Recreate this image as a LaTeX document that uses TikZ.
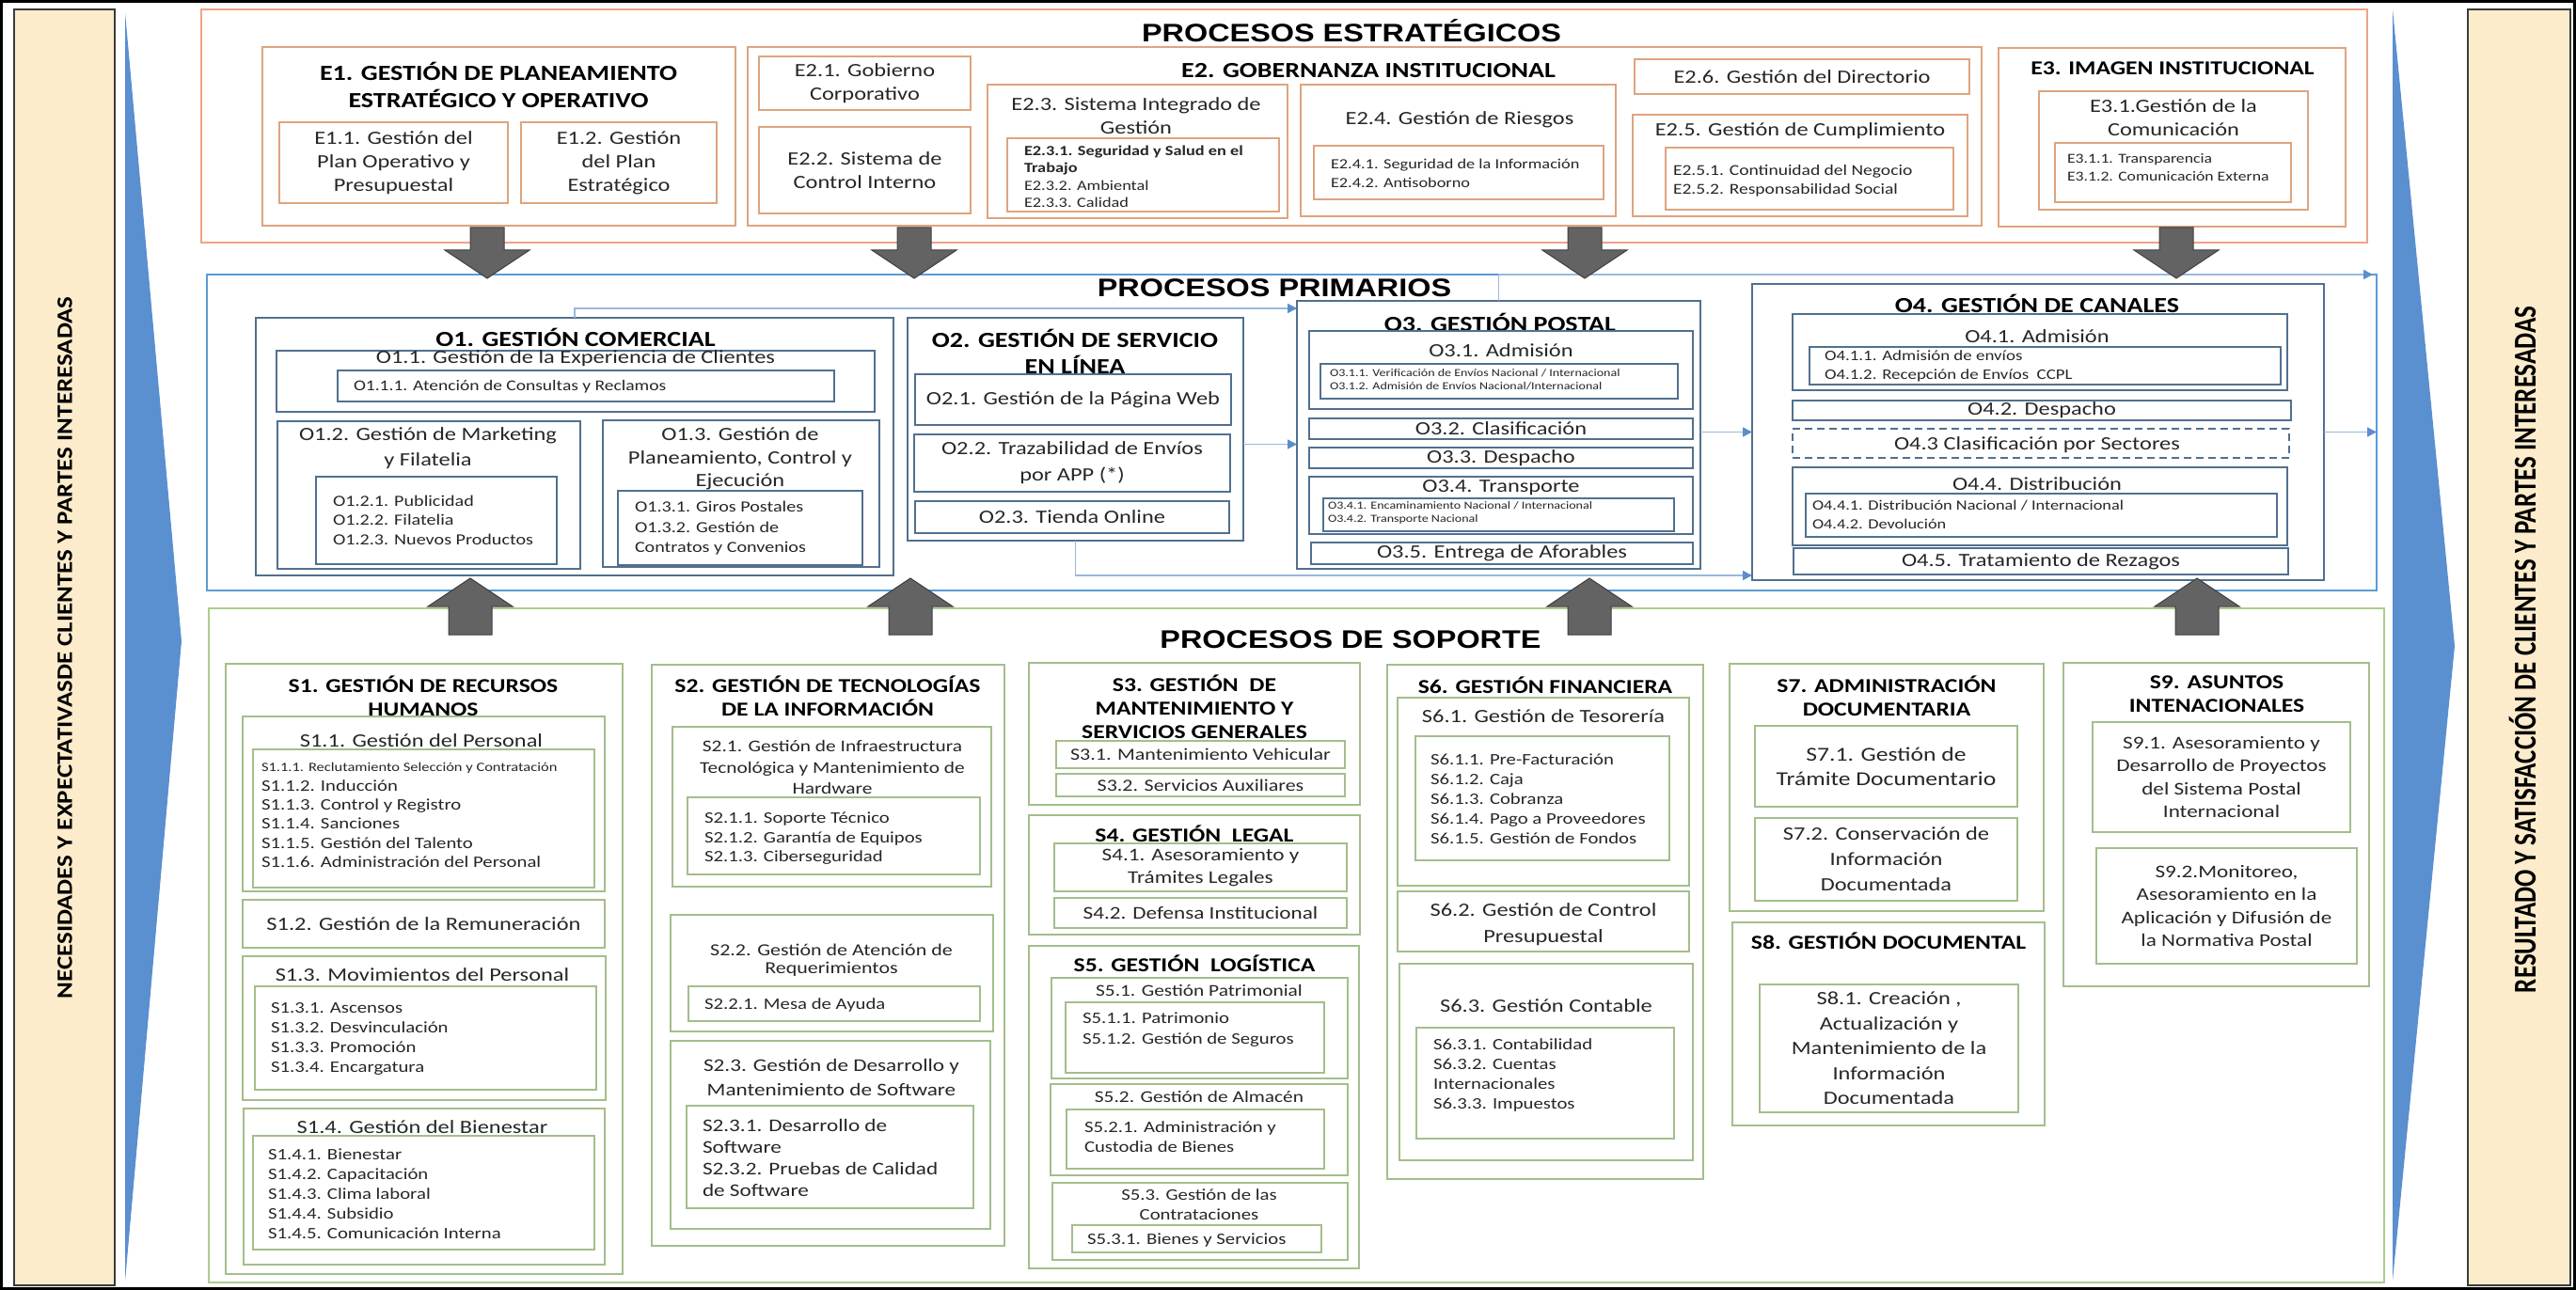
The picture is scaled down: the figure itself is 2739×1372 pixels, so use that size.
\documentclass[tikz,border=0pt]{standalone}
\usepackage{graphicx}
\usepackage{fontspec}
\setmainfont{Carlito}[FakeStretch=1.22]
\newfontfamily\hdfont{Liberation Sans}[FakeStretch=1.2]
\newfontfamily\sidefont{Carlito}
\usetikzlibrary{arrows.meta}

\definecolor{ink}{HTML}{262626}
\definecolor{sidebg}{HTML}{FCECCB}
\definecolor{sidel}{HTML}{3A3A3A}
\definecolor{chev}{HTML}{5A8FD0}
\definecolor{strl}{HTML}{F0A384}
\definecolor{eline}{HTML}{DEA47E}
\definecolor{pril}{HTML}{5B9BD5}
\definecolor{oline}{HTML}{51708F}
\definecolor{supl}{HTML}{A9CE8E}
\definecolor{sline}{HTML}{A3BE8C}
\definecolor{flowl}{HTML}{9AB8DC}
\definecolor{flowh}{HTML}{5B8FC9}
\definecolor{blkf}{HTML}{636363}
\definecolor{blkd}{HTML}{3F3F3F}

\newcommand{\fsz}[2]{\fontsize{#1}{#2}\selectfont}

\begin{document}
\begin{tikzpicture}
[x=1pt,y=-1pt,
 every node/.style={inner sep=0pt,outer sep=0pt,text=ink},
 pbox/.style={anchor=north west,line width=1.8pt},
 ebox/.style={pbox,draw=eline},
 obox/.style={pbox,draw=oline},
 sbox/.style={pbox,draw=sline},
 hdr/.style={font=\hdfont\bfseries\fsz{27}{31},text=black},
 ttl/.style={font=\bfseries\fsz{23}{29},align=center,text=black},
 stl/.style={font=\bfseries\fsz{21}{25},align=center,text=black},
 txt/.style={font=\fsz{20}{25},align=center},
 lst/.style={font=\fsz{17}{21},align=left,anchor=west},
 flow/.style={draw=flowl,line width=1.6pt,-{Triangle[length=10pt,width=10pt,color=flowh]}},
 blk/.style={fill=blkf,draw=blkd,line width=1pt}]

\useasboundingbox (0,0) rectangle (2739,1372);

% side bars
\draw[line width=3pt] (1.5,1.5) rectangle (2737.5,1370.5);
\filldraw[fill=sidebg,draw=sidel,line width=2pt] (15,10) rectangle (122,1367);
\filldraw[fill=sidebg,draw=sidel,line width=2pt] (2624,10) rectangle (2733,1367);
\fill[chev] (133,13) -- (193,682) -- (133,1363) -- cycle;
\fill[chev] (2544,10) -- (2610,687) -- (2544,1362) -- cycle;
\node[rotate=90,font=\sidefont\bfseries\fsz{27}{30},text=black] (NEC) at (69,689)
  {\scalebox{1}[0.87]{NECESIDADES Y EXPECTATIVASDE CLIENTES Y PARTES INTERESADAS}};
\node[rotate=90,font=\sidefont\bfseries\fsz{27}{30},text=black] (RES) at (2682,691)
  {\scalebox{1}[1.25]{RESULTADO Y SATISFACCIÓN DE CLIENTES Y PARTES INTERESADAS}};

% strategic
\node[pbox,draw=strl,line width=2.4pt,minimum width=2303,minimum height=248] (STR) at (214,10) {};
\node[hdr] (STRt) at (1437,33) {PROCESOS ESTRATÉGICOS};

% e1
\node[ebox,minimum width=503,minimum height=190] (E1) at (279,50) {};
\node[ttl] (E1t) at (530,90) {E1. GESTIÓN DE PLANEAMIENTO\\ESTRATÉGICO Y OPERATIVO};
\node[ebox,minimum width=243,minimum height=86] (E11) at (297,130) {};
\node[txt] (E11t) at (E11.center) {E1.1. Gestión del\\Plan Operativo y\\Presupuestal};
\node[ebox,minimum width=208,minimum height=86] (E12) at (554,130) {};
\node[txt] (E12t) at (E12.center) {E1.2. Gestión\\del Plan\\Estratégico};

% e2
\node[ebox,minimum width=1312,minimum height=190] (E2) at (795,50) {};
\node[ttl] (E2t) at (1455,75) {E2. GOBERNANZA INSTITUCIONAL};
\node[ebox,minimum width=225,minimum height=57] (E21) at (807,60) {};
\node[txt] (E21t) at (E21.center) {E2.1. Gobierno\\Corporativo};
\node[ebox,minimum width=225,minimum height=92] (E22) at (807,135) {};
\node[txt] (E22t) at (E22.center) {E2.2. Sistema de\\Control Interno};
\node[ebox,minimum width=319,minimum height=142] (E23) at (1050,90) {};
\node[txt] (E23t) at (1208,123) {E2.3. Sistema Integrado de\\Gestión};
\node[ebox,minimum width=289,minimum height=78] (E231) at (1071,147) {};
\node[lst,font=\fsz{15}{18.5}] (E231t) at (1089,188)
  {\textbf{E2.3.1. Seguridad y Salud en el}\\\textbf{Trabajo}\\E2.3.2. Ambiental\\E2.3.3. Calidad};
\node[ebox,minimum width=335,minimum height=140] (E24) at (1383,90) {};
\node[txt] (E24t) at (1552,127) {E2.4. Gestión de Riesgos};
\node[ebox,minimum width=308,minimum height=57] (E241) at (1397,155) {};
\node[lst,font=\fsz{15}{20}] (E241t) at (1415,184) {E2.4.1. Seguridad de la Información\\E2.4.2. Antisoborno};
\node[ebox,minimum width=356,minimum height=37] (E26) at (1738,63) {};
\node[txt] (E26t) at (E26.center) {E2.6. Gestión del Directorio};
\node[ebox,minimum width=356,minimum height=108] (E25) at (1736,122) {};
\node[txt] (E25t) at (1914,139) {E2.5. Gestión de Cumplimiento};
\node[ebox,minimum width=306,minimum height=66] (E251) at (1771,157) {};
\node[lst,font=\fsz{16}{20}] (E251t) at (1779,192) {E2.5.1. Continuidad del Negocio\\E2.5.2. Responsabilidad Social};

% e3
\node[ebox,minimum width=369,minimum height=190] (E3) at (2125,51) {};
\node[ttl,font=\bfseries\fsz{21}{26}] (E3t) at (2310,73) {E3. IMAGEN INSTITUCIONAL};
\node[ebox,minimum width=286,minimum height=126] (E31) at (2168,97) {};
\node[txt] (E31t) at (2311,125) {E3.1.Gestión de la\\Comunicación};
\node[ebox,minimum width=251,minimum height=63] (E311) at (2185,152) {};
\node[lst,font=\fsz{14.5}{19}] (E311t) at (2198,178) {E3.1.1. Transparencia\\E3.1.2. Comunicación Externa};

% primary
\node[pbox,draw=pril,line width=2.4pt,minimum width=2307,minimum height=336] (PRI) at (220,292) {};
\node[hdr] (PRIt) at (1355,306) {PROCESOS PRIMARIOS};

% o1
\node[obox,minimum width=678,minimum height=274] (O1) at (272,338) {};
\node[ttl] (O1t) at (612,359) {O1. GESTIÓN COMERCIAL};
\node[obox,minimum width=636,minimum height=65] (O11) at (294,373) {};
\node[txt] (O11t) at (612,381) {O1.1. Gestión de la Experiencia de Clientes};
\node[obox,minimum width=528,minimum height=33] (O111) at (359,394) {};
\node[lst,font=\fsz{16}{20}] (O111t) at (376,411) {O1.1.1. Atención de Consultas y Reclamos};
\node[obox,minimum width=322,minimum height=157] (O12) at (295,448) {};
\node[txt,font=\fsz{20}{27}] (O12t) at (455,477) {O1.2. Gestión de Marketing\\y Filatelia};
\node[obox,minimum width=256,minimum height=93] (O121) at (336,507) {};
\node[lst,font=\fsz{16.5}{20.5}] (O121t) at (354,553) {O1.2.1. Publicidad\\O1.2.2. Filatelia\\O1.2.3. Nuevos Productos};
\node[obox,minimum width=294,minimum height=156] (O13) at (641,447) {};
\node[txt,font=\fsz{20}{24.5}] (O13t) at (787,488) {O1.3. Gestión de\\Planeamiento, Control y\\Ejecución};
\node[obox,minimum width=260,minimum height=79] (O131) at (657,522) {};
\node[lst,font=\fsz{16.5}{21.5}] (O131t) at (675,562) {O1.3.1. Giros Postales\\O1.3.2. Gestión de\\Contratos y Convenios};

% o2
\node[obox,minimum width=357,minimum height=237] (O2) at (965,338) {};
\node[ttl,font=\bfseries\fsz{23}{28}] (O2t) at (1143,374) {O2. GESTIÓN DE SERVICIO\\EN LÍNEA};
\node[obox,minimum width=336,minimum height=54] (O21) at (973,398) {};
\node[txt] (O21t) at (O21.center) {O2.1. Gestión de la Página Web};
\node[obox,minimum width=336,minimum height=61] (O22) at (972,462) {};
\node[txt,font=\fsz{20}{28}] (O22t) at (O22.center) {O2.2. Trazabilidad de Envíos\\por APP (*)};
\node[obox,minimum width=334,minimum height=34] (O23) at (973,533) {};
\node[txt] (O23t) at (O23.center) {O2.3. Tienda Online};

% o3
\node[obox,minimum width=429,minimum height=285] (O3) at (1379,320) {};
\node[ttl] (O3t) at (1595,343) {O3. GESTIÓN POSTAL};
\node[obox,minimum width=408,minimum height=83] (O31) at (1392,352) {};
\node[txt] (O31t) at (1596,373) {O3.1. Admisión};
\node[obox,minimum width=380,minimum height=37] (O311) at (1404,387) {};
\node[lst,font=\fsz{11.5}{14}] (O311t) at (1414,404)
  {O3.1.1. Verificación de Envíos Nacional / Internacional\\O3.1.2. Admisión de Envíos Nacional/Internacional};
\node[obox,minimum width=408,minimum height=22] (O32) at (1392,445) {};
\node[txt] (O32t) at (O32.center) {O3.2. Clasificación};
\node[obox,minimum width=408,minimum height=22] (O33) at (1392,476) {};
\node[txt] (O33t) at (O33.center) {O3.3. Despacho};
\node[obox,minimum width=408,minimum height=61] (O34) at (1392,507) {};
\node[txt] (O34t) at (1596,519) {O3.4. Transporte};
\node[obox,minimum width=373,minimum height=35] (O341) at (1407,530) {};
\node[lst,font=\fsz{11.5}{14}] (O341t) at (1412,545)
  {O3.4.1. Encaminamiento Nacional / Internacional\\O3.4.2. Transporte Nacional};
\node[obox,minimum width=406,minimum height=23] (O35) at (1394,577) {};
\node[txt] (O35t) at (O35.center) {O3.5. Entrega de Aforables};

% o4
\node[obox,minimum width=608,minimum height=315] (O4) at (1863,302) {};
\node[ttl] (O4t) at (2166,323) {O4. GESTIÓN DE CANALES};
\node[obox,minimum width=526,minimum height=81] (O41) at (1906,334) {};
\node[txt] (O41t) at (2166,358) {O4.1. Admisión};
\node[obox,minimum width=501,minimum height=40] (O411) at (1924,369) {};
\node[lst,font=\fsz{15.5}{20}] (O411t) at (1940,389) {O4.1.1. Admisión de envíos\\O4.1.2. Recepción de Envíos~ CCPL};
\node[obox,minimum width=530,minimum height=21] (O42) at (1906,426) {};
\node[txt] (O42t) at (O42.center) {O4.2. Despacho};
\node[obox,dash pattern=on 8pt off 5pt,minimum width=528,minimum height=31] (O43) at (1906,456) {};
\node[txt] (O43t) at (2166,473) {O4.3 Clasificación por Sectores};
\node[obox,minimum width=526,minimum height=83] (O44) at (1906,497) {};
\node[txt] (O44t) at (2166,515) {O4.4. Distribución};
\node[obox,minimum width=501,minimum height=46] (O441) at (1920,525) {};
\node[lst,font=\fsz{15}{20}] (O441t) at (1927,547) {O4.4.1. Distribución Nacional / Internacional\\O4.4.2. Devolución};
\node[obox,minimum width=526,minimum height=28] (O45) at (1907,583) {};
\node[txt] (O45t) at (O45.center) {O4.5. Tratamiento de Rezagos};

% flows
\draw[flow] (O1.north) -- ++(0,-10) coordinate (f1) -- (f1 -| O3.west);
\draw[flow] ([yshift=-16pt]O2.east) -- ([yshift=-16pt]O2.east -| O3.west);
\draw[flow] (O3.east |- O4.west) -- (O4.west);
\draw[flow] (O4.east) -- (O4.east -| PRI.east);
\draw[flow] (O2.south) -- ++(0,37) coordinate (f2) -- (f2 -| O4.west);
\draw[flow] (O3.north) -- (O3.north |- PRI.north) -- ([xshift=-4pt]PRI.north east);

% support
\node[pbox,draw=supl,line width=2.4pt,minimum width=2313,minimum height=717] (SUP) at (222,647) {};
\node[hdr] (SUPt) at (1436,680) {PROCESOS DE SOPORTE};

% s1
\node[sbox,minimum width=422,minimum height=649] (S1) at (240,706) {};
\node[stl] (S1t) at (450,740) {S1. GESTIÓN DE RECURSOS\\HUMANOS};
\node[sbox,minimum width=385,minimum height=186] (S11) at (258,762) {};
\node[txt] (S11t) at (448,788) {S1.1. Gestión del Personal};
\node[sbox,minimum width=363,minimum height=147] (S111) at (269,797) {};
\node[lst,font=\fsz{17}{20.4}] (S111t) at (278,867)
  {{\fsz{13.5}{20.4}S1.1.1. Reclutamiento Selección y Contratación}\\S1.1.2. Inducción\\S1.1.3. Control y Registro\\S1.1.4. Sanciones\\S1.1.5. Gestión del Talento\\S1.1.6. Administración del Personal};
\node[sbox,minimum width=385,minimum height=51] (S12) at (258,957) {};
\node[txt] (S12t) at (S12.center) {S1.2. Gestión de la Remuneración};
\node[sbox,minimum width=386,minimum height=153] (S13) at (258,1017) {};
\node[txt] (S13t) at (449,1037) {S1.3. Movimientos del Personal};
\node[sbox,minimum width=363,minimum height=110] (S131) at (271,1049) {};
\node[lst,font=\fsz{17}{21}] (S131t) at (288,1105) {S1.3.1. Ascensos\\S1.3.2. Desvinculación\\S1.3.3. Promoción\\S1.3.4. Encargatura};
\node[sbox,minimum width=384,minimum height=166] (S14) at (259,1179) {};
\node[txt] (S14t) at (449,1199) {S1.4. Gestión del Bienestar};
\node[sbox,minimum width=363,minimum height=121] (S141) at (269,1208) {};
\node[lst,font=\fsz{17}{21}] (S141t) at (285,1270)
  {S1.4.1. Bienestar\\S1.4.2. Capacitación\\S1.4.3. Clima laboral\\S1.4.4. Subsidio\\S1.4.5. Comunicación Interna};

% s2
\node[sbox,minimum width=375,minimum height=618] (S2) at (693,707) {};
\node[stl] (S2t) at (880,740) {S2. GESTIÓN DE TECNOLOGÍAS\\DE LA INFORMACIÓN};
\node[sbox,minimum width=339,minimum height=170] (S21) at (715,773) {};
\node[txt,font=\fsz{17.5}{22.5}] (S21t) at (885,816) {S2.1. Gestión de Infraestructura\\Tecnológica y Mantenimiento de\\Hardware};
\node[sbox,minimum width=311,minimum height=82] (S211) at (731,848) {};
\node[lst,font=\fsz{17}{20.5}] (S211t) at (749,892) {S2.1.1. Soporte Técnico\\S2.1.2. Garantía de Equipos\\S2.1.3. Ciberseguridad};
\node[sbox,minimum width=343,minimum height=124] (S22) at (713,973) {};
\node[txt,font=\fsz{18}{19.5}] (S22t) at (884,1021) {S2.2. Gestión de Atención de\\Requerimientos};
\node[sbox,minimum width=310,minimum height=37] (S221) at (732,1049) {};
\node[lst] (S221t) at (749,1069) {S2.2.1. Mesa de Ayuda};
\node[sbox,minimum width=340,minimum height=200] (S23) at (713,1107) {};
\node[txt,font=\fsz{19}{26}] (S23t) at (884,1146) {S2.3. Gestión de Desarrollo y\\Mantenimiento de Software};
\node[sbox,minimum width=305,minimum height=109] (S231) at (730,1176) {};
\node[lst,font=\fsz{19}{23}] (S231t) at (747,1231) {S2.3.1. Desarrollo de\\Software\\S2.3.2. Pruebas de Calidad\\de Software};

% s3 s4 s5
\node[sbox,minimum width=352,minimum height=151] (S3) at (1094,705) {};
\node[stl] (S3t) at (1270,752) {S3. GESTIÓN~ DE\\MANTENIMIENTO Y\\SERVICIOS GENERALES};
\node[sbox,minimum width=307,minimum height=29] (S31) at (1123,788) {};
\node[txt,font=\fsz{18}{22}] (S31t) at (S31.center) {S3.1. Mantenimiento Vehicular};
\node[sbox,minimum width=307,minimum height=24] (S32) at (1123,823) {};
\node[txt,font=\fsz{18}{22}] (S32t) at (S32.center) {S3.2. Servicios Auxiliares};
\node[sbox,minimum width=352,minimum height=127] (S4) at (1094,867) {};
\node[stl] (S4t) at (1270,887) {S4. GESTIÓN~ LEGAL};
\node[sbox,minimum width=311,minimum height=51] (S41) at (1121,897) {};
\node[txt,font=\fsz{19}{24}] (S41t) at (S41.center) {S4.1. Asesoramiento y\\Trámites Legales};
\node[sbox,minimum width=311,minimum height=32] (S42) at (1121,955) {};
\node[txt,font=\fsz{19}{24}] (S42t) at (S42.center) {S4.2. Defensa Institucional};
\node[sbox,minimum width=351,minimum height=343] (S5) at (1094,1006) {};
\node[stl] (S5t) at (1270,1025) {S5. GESTIÓN~ LOGÍSTICA};
\node[sbox,minimum width=315,minimum height=107] (S51) at (1118,1040) {};
\node[txt,font=\fsz{17.5}{22}] (S51t) at (1275,1053) {S5.1. Gestión Patrimonial};
\node[sbox,minimum width=275,minimum height=75] (S511) at (1133,1066) {};
\node[lst,font=\fsz{17}{22}] (S511t) at (1151,1095) {S5.1.1. Patrimonio\\S5.1.2. Gestión de Seguros};
\node[sbox,minimum width=316,minimum height=97] (S52) at (1117,1153) {};
\node[txt,font=\fsz{17.5}{22}] (S52t) at (1275,1166) {S5.2. Gestión de Almacén};
\node[sbox,minimum width=274,minimum height=63] (S521) at (1134,1180) {};
\node[lst,font=\fsz{17}{20.5}] (S521t) at (1153,1209) {S5.2.1. Administración y\\Custodia de Bienes};
\node[sbox,minimum width=314,minimum height=82] (S53) at (1119,1258) {};
\node[txt,font=\fsz{17}{21}] (S53t) at (1275,1281) {S5.3. Gestión de las\\Contrataciones};
\node[sbox,minimum width=265,minimum height=29] (S531) at (1140,1303) {};
\node[lst] (S531t) at (1156,1319) {S5.3.1. Bienes y Servicios};

% s6
\node[sbox,minimum width=336,minimum height=547] (S6) at (1475,707) {};
\node[stl] (S6t) at (1643,729) {S6. GESTIÓN FINANCIERA};
\node[sbox,minimum width=310,minimum height=200] (S61) at (1486,742) {};
\node[txt] (S61t) at (1641,762) {S6.1. Gestión de Tesorería};
\node[sbox,minimum width=270,minimum height=132] (S611) at (1505,783) {};
\node[lst,font=\fsz{17}{21}] (S611t) at (1521,850)
  {S6.1.1. Pre-Facturación\\S6.1.2. Caja\\S6.1.3. Cobranza\\S6.1.4. Pago a Proveedores\\S6.1.5. Gestión de Fondos};
\node[sbox,minimum width=310,minimum height=64] (S62) at (1486,948) {};
\node[txt,font=\fsz{20}{28}] (S62t) at (1641,983) {S6.2. Gestión de Control\\Presupuestal};
\node[sbox,minimum width=312,minimum height=209] (S63) at (1488,1025) {};
\node[txt] (S63t) at (1644,1070) {S6.3. Gestión Contable};
\node[sbox,minimum width=274,minimum height=118] (S631) at (1506,1093) {};
\node[lst,font=\fsz{17}{21}] (S631t) at (1524,1143) {S6.3.1. Contabilidad\\S6.3.2. Cuentas\\Internacionales\\S6.3.3. Impuestos};

% s7 s8
\node[sbox,minimum width=334,minimum height=263] (S7) at (1839,706) {};
\node[stl] (S7t) at (2006,740) {S7. ADMINISTRACIÓN\\DOCUMENTARIA};
\node[sbox,minimum width=279,minimum height=86] (S71) at (1866,772) {};
\node[txt,font=\fsz{21}{26}] (S71t) at (S71.center) {S7.1. Gestión de\\Trámite Documentario};
\node[sbox,minimum width=279,minimum height=88] (S72) at (1866,870) {};
\node[txt,font=\fsz{20}{27}] (S72t) at (S72.center) {S7.2. Conservación de\\Información\\Documentada};
\node[sbox,minimum width=332,minimum height=216] (S8) at (1842,981) {};
\node[stl] (S8t) at (2008,1001) {S8. GESTIÓN DOCUMENTAL};
\node[sbox,minimum width=275,minimum height=136] (S81) at (1871,1047) {};
\node[txt,font=\fsz{20}{26.5}] (S81t) at (S81.center)
  {S8.1. Creación ,\\Actualización y\\Mantenimiento de la\\Información\\Documentada};

% s9
\node[sbox,minimum width=325,minimum height=344] (S9) at (2194,705) {};
\node[stl] (S9t) at (2357,738) {S9. ASUNTOS\\INTENACIONALES};
\node[sbox,minimum width=274,minimum height=117] (S91) at (2225,768) {};
\node[txt,font=\fsz{19}{24.5}] (S91t) at (S91.center)
  {S9.1. Asesoramiento y\\Desarrollo de Proyectos\\del Sistema Postal\\Internacional};
\node[sbox,minimum width=277,minimum height=123] (S92) at (2229,902) {};
\node[txt,font=\fsz{19}{24.5}] (S92t) at (S92.center)
  {S9.2.Monitoreo,\\Asesoramiento en la\\Aplicación y Difusión de\\la Normativa Postal};

% block arrows
\foreach \cx in {518,972,1685,2314}
  \filldraw[blk] (\cx-18,242) -- (\cx+18,242) -- (\cx+18,266) -- (\cx+45,266)
    -- (\cx,296) -- (\cx-45,266) -- (\cx-18,266) -- cycle;
\foreach \cx in {500,968,1690,2336}
  \filldraw[blk] (\cx-23,675) -- (\cx-23,645) -- (\cx-45,645) -- (\cx,615)
    -- (\cx+45,645) -- (\cx+23,645) -- (\cx+23,675) -- cycle;

\end{tikzpicture}
\end{document}
